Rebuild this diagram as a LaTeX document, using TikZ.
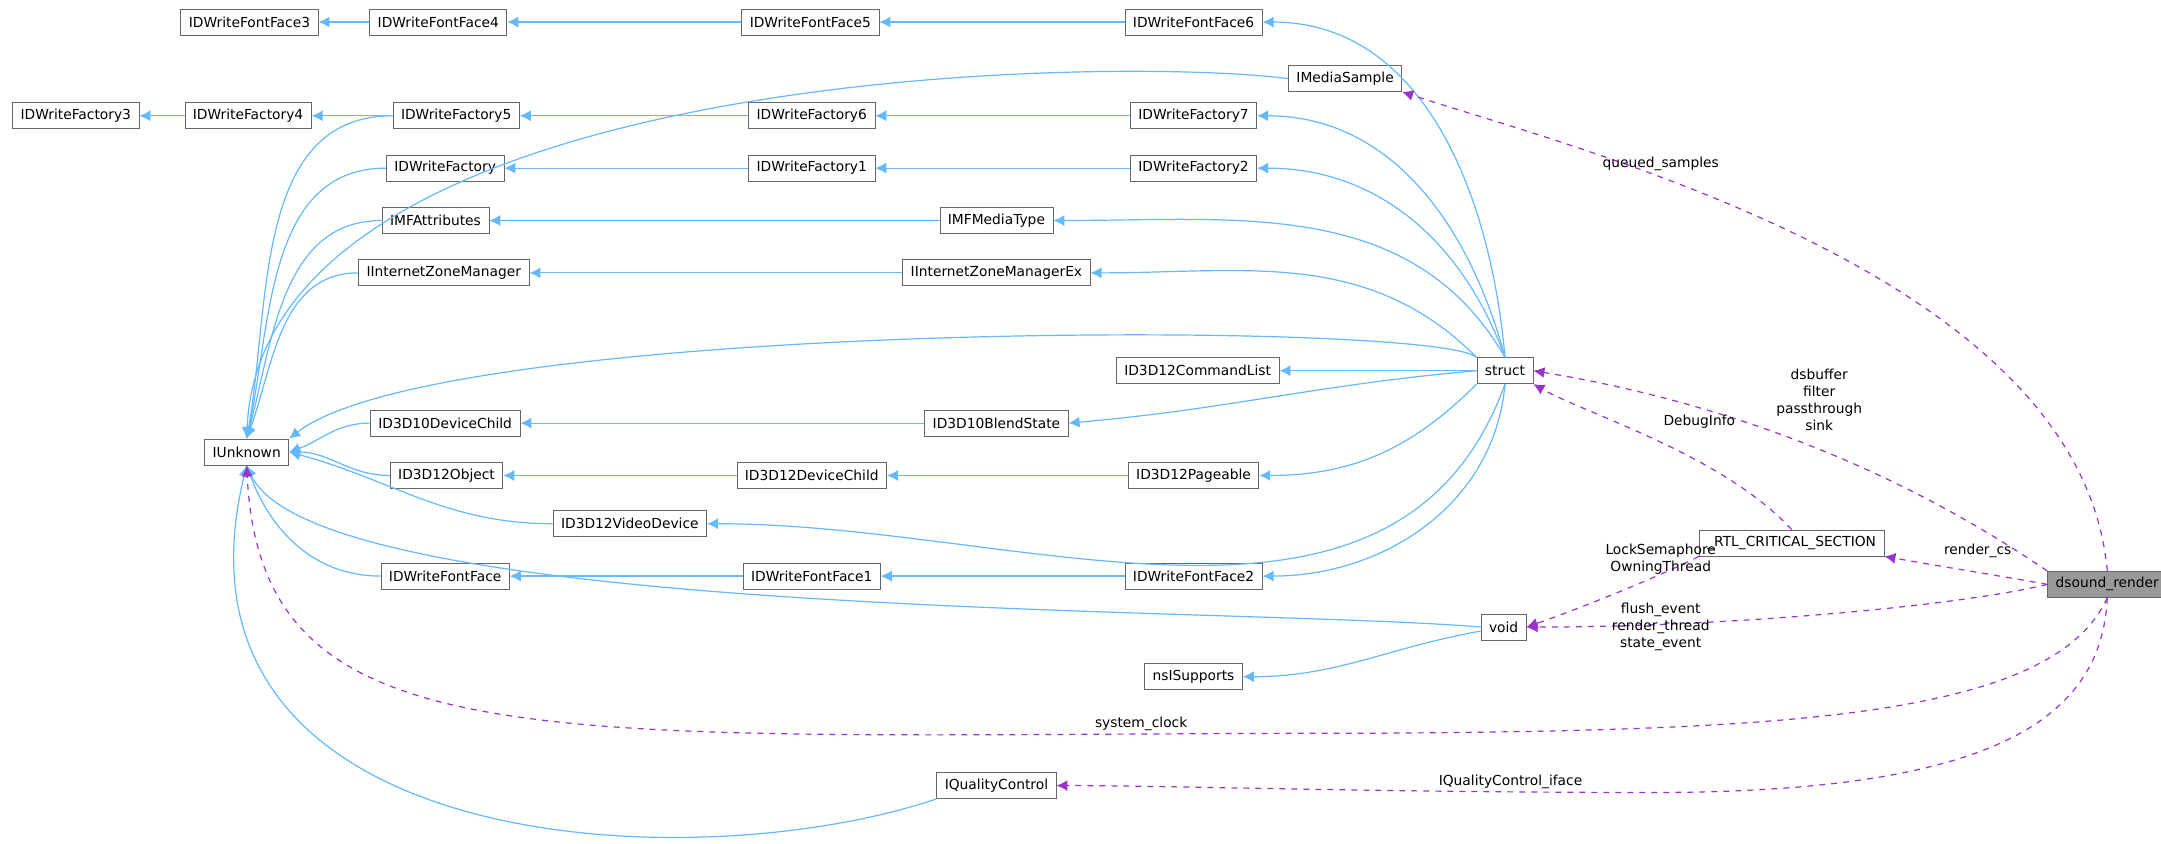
\documentclass[tikz,border=0pt]{standalone}
\usepackage{fontspec}
\setmainfont{DejaVu Sans}
\usetikzlibrary{arrows.meta}
\definecolor{inhblue}{HTML}{63B8FF}
\definecolor{usepurple}{HTML}{9A32CD}
\definecolor{boxgray}{HTML}{666666}
\definecolor{curgray}{HTML}{999999}
\tikzset{
  cls/.style={draw=boxgray,fill=white,font=\fontsize{6.9}{8}\selectfont,inner xsep=4pt,inner ysep=0pt,minimum height=13pt},
  cur/.style={cls,fill=curgray},
  inh/.style={draw=inhblue,-{Latex[length=5.5pt,width=5.5pt]},line width=0.6pt},
  usage/.style={draw=usepurple,dashed,-{Latex[length=5.5pt,width=5.5pt]},line width=0.6pt},
  lbl/.style={font=\fontsize{6.9}{8.6}\selectfont,align=center,inner sep=0pt}
}
\begin{document}
\begin{tikzpicture}[x=0.689pt,y=-0.689pt]
\useasboundingbox (0,0) rectangle (1568,612);
% classes
\node[cls] (ff3) at (181,16) {IDWriteFontFace3};
\node[cls] (ff4) at (318,16) {IDWriteFontFace4};
\node[cls] (ff5) at (588,16) {IDWriteFontFace5};
\node[cls] (ff6) at (866,16) {IDWriteFontFace6};
\node[cls] (ims) at (976,57) {IMediaSample};
\node[cls] (fa3) at (55,84) {IDWriteFactory3};
\node[cls] (fa4) at (180,84) {IDWriteFactory4};
\node[cls] (fa5) at (331,84) {IDWriteFactory5};
\node[cls] (fa6) at (589,84) {IDWriteFactory6};
\node[cls] (fa7) at (866,84) {IDWriteFactory7};
\node[cls] (fa) at (323,122) {IDWriteFactory};
\node[cls] (fa1) at (589,122) {IDWriteFactory1};
\node[cls] (fa2) at (866,122) {IDWriteFactory2};
\node[cls] (mfa) at (316,160) {IMFAttributes};
\node[cls] (mfm) at (723,160) {IMFMediaType};
\node[cls] (izm) at (322,198) {IInternetZoneManager};
\node[cls] (izx) at (723,198) {IInternetZoneManagerEx};
\node[cls] (struct) at (1092,269) {struct};
\node[cls] (cmdl) at (869,269) {ID3D12CommandList};
\node[cls] (d10c) at (323,307) {ID3D10DeviceChild};
\node[cls] (d10b) at (723,307) {ID3D10BlendState};
\node[cls] (iunk) at (179,328) {IUnknown};
\node[cls] (d12o) at (324,345) {ID3D12Object};
\node[cls] (d12c) at (589,345) {ID3D12DeviceChild};
\node[cls] (d12p) at (866,345) {ID3D12Pageable};
\node[cls] (d12v) at (457,380) {ID3D12VideoDevice};
\node[cls] (rtl) at (1300,394) {\_RTL\_CRITICAL\_SECTION};
\node[cls] (wff) at (323,418) {IDWriteFontFace};
\node[cls] (wff1) at (589,418) {IDWriteFontFace1};
\node[cls] (wff2) at (866,418) {IDWriteFontFace2};
\node[cur] (ds) at (1529,424) {dsound\_render};
\node[cls] (void) at (1091,455) {void};
\node[cls] (nss) at (866,491) {nsISupports};
\node[cls] (iqc) at (723,570) {IQualityControl};
% inheritance
\draw[inh] (ff4) -- (ff3);
\draw[inh] (ff5) -- (ff4);
\draw[inh] (ff6) -- (ff5);
\draw[inh] (fa4) -- (fa3);
\draw[inh] (fa5) -- (fa4);
\draw[inh] (fa6) -- (fa5);
\draw[inh] (fa7) -- (fa6);
\draw[inh] (fa1) -- (fa);
\draw[inh] (fa2) -- (fa1);
\draw[inh] (mfm) -- (mfa);
\draw[inh] (izx) -- (izm);
\draw[inh] (d10b) -- (d10c);
\draw[inh] (d12c) -- (d12o);
\draw[inh] (d12p) -- (d12c);
\draw[inh] (wff1) -- (wff);
\draw[inh] (wff2) -- (wff1);
\draw[inh] (void) to[out=-170,in=0] (nss.east);
% struct to its bases
\draw[inh] (struct.north) to[out=95,in=0] (ff6.east);
\draw[inh] (struct.north) to[out=105,in=0] (fa7.east);
\draw[inh] (struct.north) to[out=110,in=0] (fa2.east);
\draw[inh] (struct.north) to[out=120,in=0] (mfm.east);
\draw[inh] (struct.north west) to[out=135,in=0] (izx.east);
\draw[inh] (struct.west) -- (cmdl.east);
\draw[inh] (struct.west) to[out=185,in=5] (d10b.east);
\draw[inh] (struct.south west) to[out=-135,in=0] (d12p.east);
\draw[inh] (struct.south) to[out=-110,in=0] (d12v.east);
\draw[inh] (struct.south) to[out=-95,in=0] (wff2.east);
\draw[inh] (struct.north west) .. controls (1040,232) and (320,232) .. (iunk.north east);
% IUnknown fan
\draw[inh] (ims.west) .. controls (800,40) and (190,50) .. (iunk.north);
\draw[inh] (fa5.west) to[out=180,in=80] (iunk.north);
\draw[inh] (fa.west) to[out=180,in=78] (iunk.north);
\draw[inh] (mfa.west) to[out=180,in=75] (iunk.north);
\draw[inh] (izm.west) to[out=180,in=70] (iunk.north);
\draw[inh] (d10c.west) to[out=180,in=20] (iunk.east);
\draw[inh] (d12o.west) to[out=180,in=0] (iunk.east);
\draw[inh] (d12v.west) to[out=180,in=-15] (iunk.east);
\draw[inh] (wff.west) to[out=180,in=-70] (iunk.south);
\draw[inh] (void.west) .. controls (900,440) and (230,450) .. (iunk.south);
\draw[inh] (iqc.south west) .. controls (500,640) and (110,620) .. (iunk.south);
% usage relations
\draw[usage] (ds.north) .. controls (1510,200) and (1150,110) .. (ims.south east);
\node[lbl] (lqs) at (1205,119) {queued\_samples};
\draw[usage] (ds.north west) .. controls (1420,370) and (1300,300) .. (struct.east);
\node[lbl] (lds) at (1320,290) {dsbuffer\\filter\\passthrough\\sink};
\draw[usage] (rtl.north) .. controls (1250,330) and (1150,300) .. (struct.south east);
\node[lbl] (ldi) at (1233,306) {DebugInfo};
\draw[usage] (ds.west) to[out=170,in=-10] (rtl.south east);
\node[lbl] (lrc) at (1435,400) {render\_cs};
\draw[usage] (rtl.south west) .. controls (1200,420) and (1150,440) .. (void.east);
\node[lbl] (lls) at (1205,406) {LockSemaphore\\OwningThread};
\draw[usage] (ds.west) .. controls (1420,440) and (1250,455) .. (void.east);
\node[lbl] (lfe) at (1205,455) {flush\_event\\render\_thread\\state\_event};
\draw[usage] (ds.south) .. controls (1490,520) and (1300,530) .. (1000,532) .. controls (400,532) and (190,560) .. (iunk.south);
\node[lbl] (lsc) at (828,525) {system\_clock};
\draw[usage] (ds.south) .. controls (1525,520) and (1450,575) .. (1200,575) .. controls (1000,575) and (850,570) .. (iqc.east);
\node[lbl] (lqi) at (1096,567) {IQualityControl\_iface};
\end{tikzpicture}
\end{document}
